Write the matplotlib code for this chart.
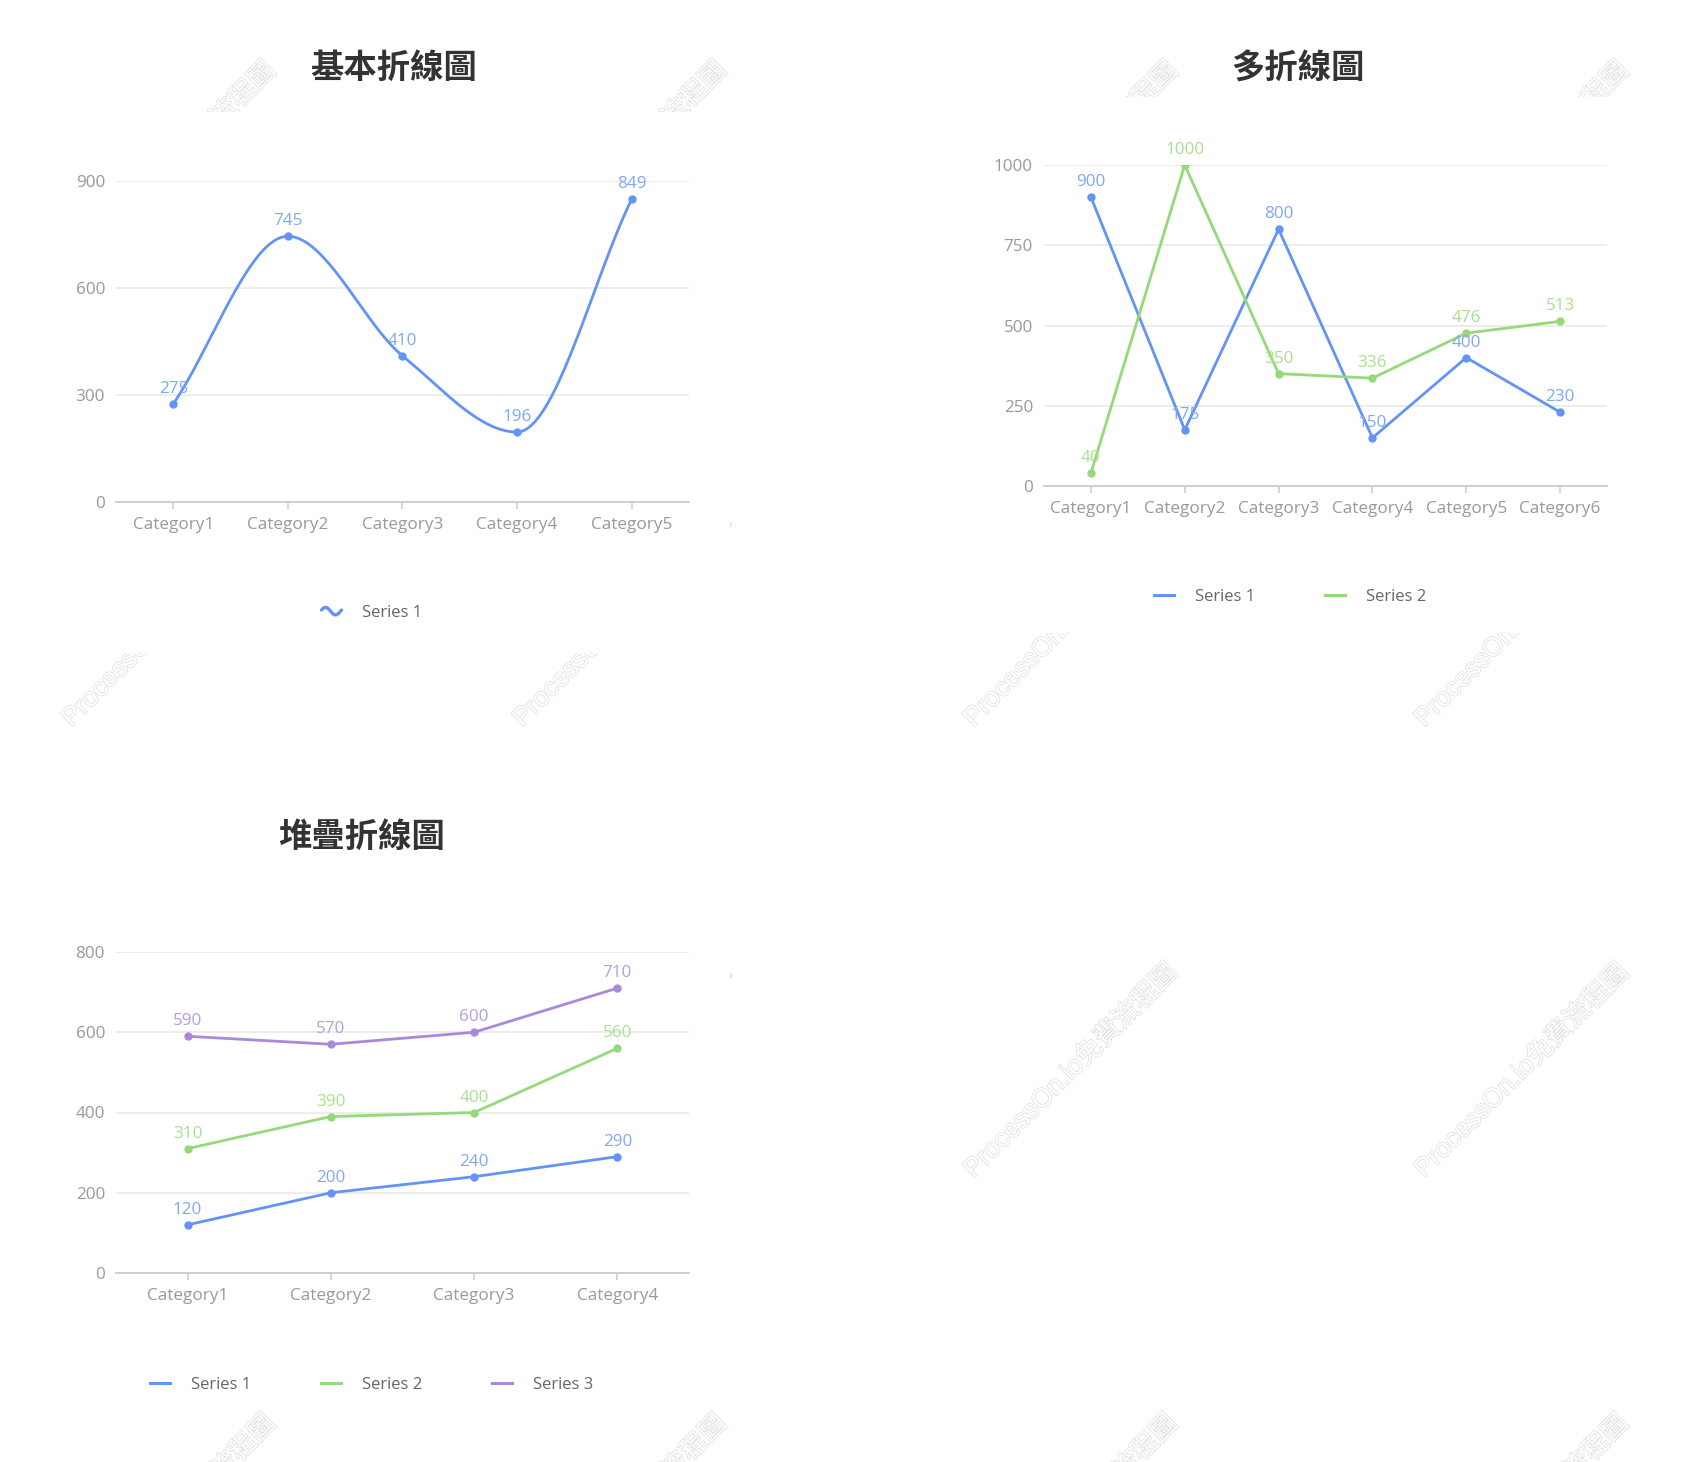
import numpy as np
import matplotlib
matplotlib.use('Agg')
import matplotlib.pyplot as plt
import matplotlib.patheffects as pe
from matplotlib.lines import Line2D
from matplotlib.patches import Rectangle
from matplotlib.legend_handler import HandlerBase

plt.rcParams['font.family'] = ['Open Sans', 'Noto Sans CJK TC', 'DejaVu Sans']

# data
basic_cats = ['Category1', 'Category2', 'Category3', 'Category4', 'Category5']
basic_vals = [275, 745, 410, 196, 849]

multi_cats = ['Category1', 'Category2', 'Category3', 'Category4', 'Category5', 'Category6']
multi_s1 = [900, 175, 800, 150, 400, 230]
multi_s2 = [40, 1000, 350, 336, 476, 513]

stack_cats = ['Category1', 'Category2', 'Category3', 'Category4']
stack_s1 = [120, 200, 240, 290]
stack_s2 = [310, 390, 400, 560]
stack_s3 = [590, 570, 600, 710]

series_names = ['Series 1', 'Series 2', 'Series 3']

BLUE = '#6393f7'
GREEN = '#95d97a'
PURPLE = '#a98ada'
LBL = {BLUE: '#80a8f8', GREEN: '#a9e08f', PURPLE: '#b79de0'}

W, H = 1683, 1462
fig = plt.figure(figsize=(W / 100, H / 100), dpi=100)

# watermark layer with white panels over it
bg = fig.add_axes([0, 0, 1, 1], zorder=-5)
bg.axis('off')
bg.set_xlim(0, W)
bg.set_ylim(H, 0)
for i in range(4):
    for j in range(4):
        bg.text(59 + 451 * i + 110, 59 + 451 * j + 110, 'ProcessOn.io免費流程圖',
                rotation=45, rotation_mode='anchor', ha='center', va='center',
                fontsize=19, color='white', zorder=1,
                family=['Liberation Sans', 'Noto Sans CJK TC'],
                path_effects=[pe.withStroke(linewidth=1.1, foreground='#e0e0e0')])
for (x0, y0, w, h) in [(0, 112, 902, 541), (902, 97, 781, 536), (0, 740, 902, 660)]:
    bg.add_patch(Rectangle((x0, y0), w, h, fc='white', ec='none', zorder=2))


def px_axes(x0, x1, ytop, ybot):
    return fig.add_axes([x0 / W, 1 - ybot / H, (x1 - x0) / W, (ybot - ytop) / H])


def style(ax, cats, ymax, step):
    ax.set_facecolor('none')
    ax.set_xlim(-0.5, len(cats) - 0.5)
    ax.set_ylim(0, ymax)
    ax.set_yticks(np.arange(0, ymax + 1, step))
    ax.set_xticks(range(len(cats)), cats)
    for s in ['top', 'right', 'left']:
        ax.spines[s].set_visible(False)
    ax.spines['bottom'].set_color('#cccccc')
    ax.spines['bottom'].set_linewidth(1.3)
    ax.grid(axis='y', color='#e8e8e8', lw=1.1)
    ax.set_axisbelow(True)
    ax.tick_params(axis='y', length=0, pad=8, labelcolor='#999999', labelsize=12.3)
    ax.tick_params(axis='x', length=5, width=1.1, color='#cccccc', pad=6,
                   labelcolor='#999999', labelsize=12.3)


def labels(ax, vals, color):
    for i, v in enumerate(vals):
        ax.annotate(str(v), (i, v), xytext=(0, 5), textcoords='offset points',
                    ha='center', va='bottom', color=LBL[color], fontsize=12.3,
                    annotation_clip=False, zorder=5)


def smooth_curve(y, n=40):
    # monotone cubic hermite through the points
    y = np.asarray(y, float)
    d = np.diff(y)
    m = np.zeros(len(y))
    m[0], m[-1] = d[0], d[-1]
    for k in range(1, len(y) - 1):
        if d[k - 1] * d[k] > 0:
            m[k] = 2 * d[k - 1] * d[k] / (d[k - 1] + d[k])
    xs, ys = [], []
    t = np.linspace(0, 1, n)
    for k in range(len(y) - 1):
        h00 = 2 * t**3 - 3 * t**2 + 1
        h10 = t**3 - 2 * t**2 + t
        h01 = -2 * t**3 + 3 * t**2
        h11 = t**3 - t**2
        xs.extend(k + t)
        ys.extend(h00 * y[k] + h10 * m[k] + h01 * y[k + 1] + h11 * m[k + 1])
    return np.array(xs), np.array(ys)


class WaveHandler(HandlerBase):
    def create_artists(self, legend, orig_handle, xdescent, ydescent, width, height, fontsize, trans):
        t = np.linspace(0, 2 * np.pi, 40)
        xs = -xdescent + width * t / (2 * np.pi)
        ys = -ydescent + height / 2 + 0.32 * height * np.sin(t + 0.3)
        ln = Line2D(xs, ys, color=orig_handle.get_color(), lw=2.4, solid_capstyle='round')
        ln.set_transform(trans)
        return [ln]


leg_kw = dict(loc='center', frameon=False, fontsize=12, labelcolor='#666666',
              handlelength=1.2, handletextpad=1.25)

# chart 1: basic smooth line
ax1 = px_axes(116, 689, 181, 502)
style(ax1, basic_cats, 900, 300)
sx, sy = smooth_curve(basic_vals)
ax1.plot(sx, sy, color=BLUE, lw=2, zorder=3)
ax1.plot(range(len(basic_vals)), basic_vals, 'o', color=BLUE, ms=5, zorder=4)
labels(ax1, basic_vals, BLUE)
h1 = Line2D([], [], color=BLUE)
fig.legend([h1], ['Series 1'], handler_map={h1: WaveHandler()},
           bbox_to_anchor=(372 / W, 1 - 613 / H), **leg_kw)

# chart 2: multiple lines
ax2 = px_axes(1044, 1607, 165, 486)
style(ax2, multi_cats, 1000, 250)
hs = []
for vals, c in [(multi_s1, BLUE), (multi_s2, GREEN)]:
    ax2.plot(range(len(vals)), vals, '-o', color=c, lw=2, ms=5, zorder=3)
    labels(ax2, vals, c)
    hs.append(Line2D([], [], color=c, lw=2.2))
fig.legend(hs, series_names[:2], bbox_to_anchor=(1290 / W, 1 - 597 / H),
           ncol=2, columnspacing=4.2, **leg_kw)

# chart 3: stacked lines
ax3 = px_axes(116, 689, 952, 1273)
style(ax3, stack_cats, 800, 200)
hs = []
for vals, c in [(stack_s1, BLUE), (stack_s2, GREEN), (stack_s3, PURPLE)]:
    ax3.plot(range(len(vals)), vals, '-o', color=c, lw=2, ms=5, zorder=3)
    labels(ax3, vals, c)
    hs.append(Line2D([], [], color=c, lw=2.2))
fig.legend(hs, series_names, bbox_to_anchor=(372 / W, 1 - 1385 / H),
           ncol=3, columnspacing=4.2, **leg_kw)

# titles
for x, y, s in [(394, 68, '基本折線圖'), (1298, 68, '多折線圖'), (362, 837, '堆疊折線圖')]:
    fig.text(x / W, 1 - y / H, s, ha='center', va='center', fontsize=24,
             fontweight='bold', color='#333333', family=['Noto Sans CJK TC'])

# small pager arrows
for y in [524, 975]:
    fig.text(730 / W, 1 - y / H, '›', ha='center', va='center', fontsize=9, color='#cccccc')

fig.savefig('out.png', dpi=100, facecolor='white')
